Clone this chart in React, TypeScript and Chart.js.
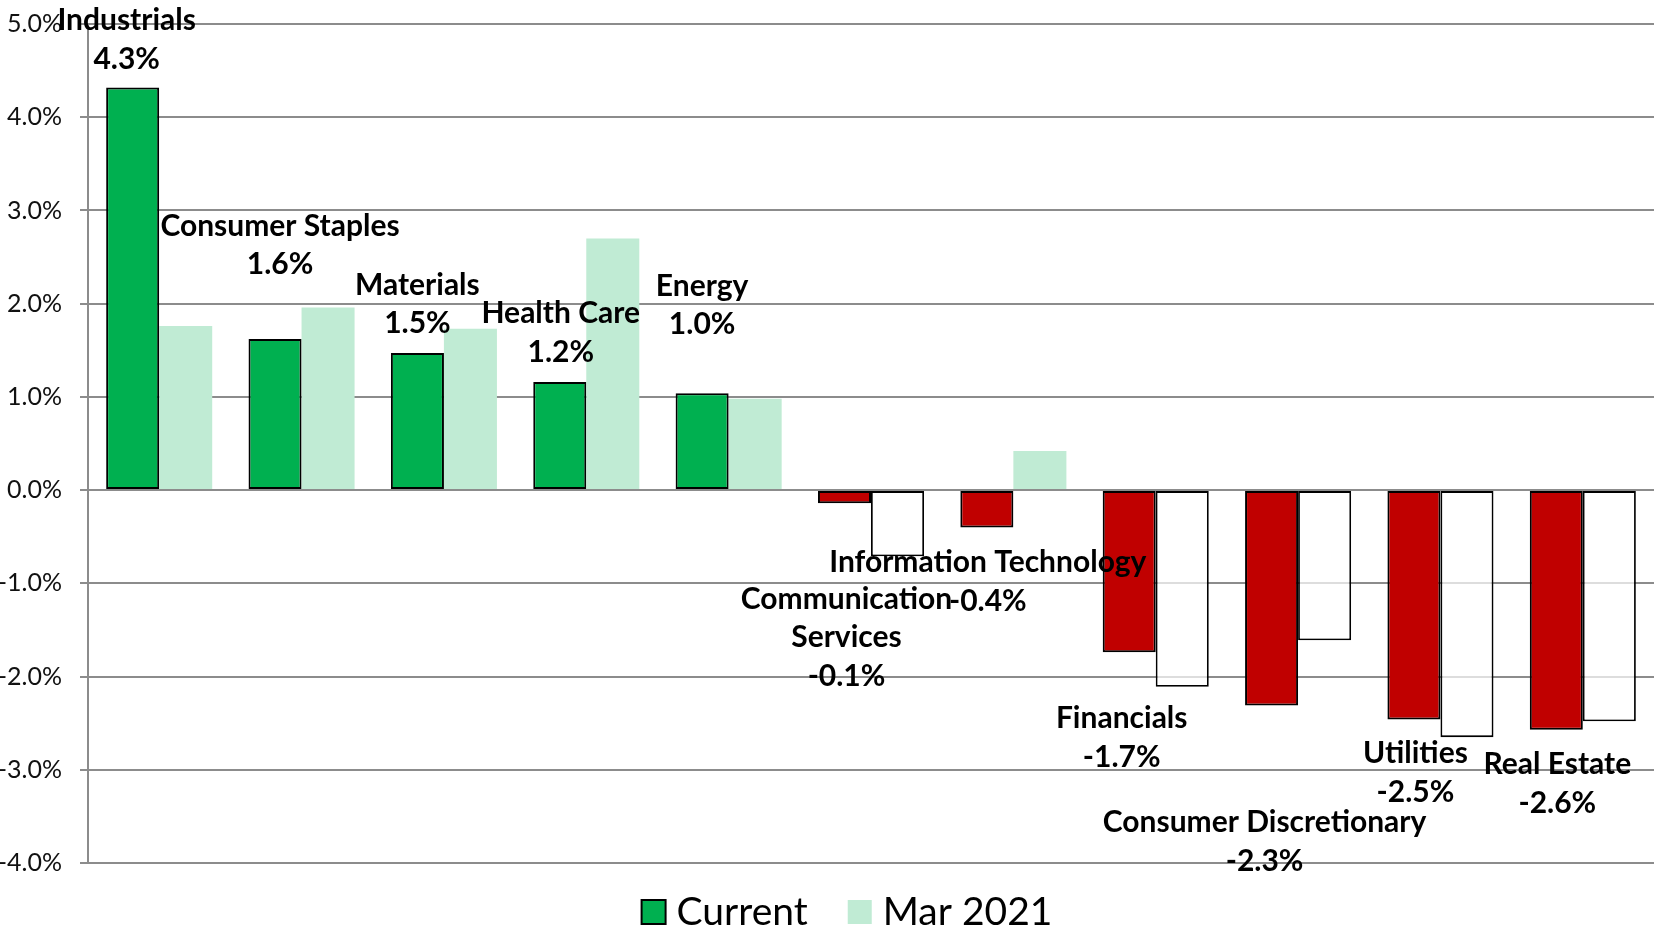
import React, { useEffect, useRef } from 'react';
import { Chart, registerables } from 'chart.js';

Chart.register(...registerables);

// ---- data ----
const categories = [
  'Industrials',
  'Consumer Staples',
  'Materials',
  'Health Care',
  'Energy',
  'Communication Services',
  'Information Technology',
  'Financials',
  'Consumer Discretionary',
  'Utilities',
  'Real Estate',
];

const labelLines = [
  ['Industrials'],
  ['Consumer Staples'],
  ['Materials'],
  ['Health Care'],
  ['Energy'],
  ['Communication', 'Services'],
  ['Information Technology'],
  ['Financials'],
  ['Consumer Discretionary'],
  ['Utilities'],
  ['Real Estate'],
];

const currentValues = [4.32, 1.62, 1.47, 1.16, 1.04, -0.14, -0.4, -1.74, -2.31, -2.46, -2.57];
const mar2021Values = [1.76, 1.96, 1.73, 2.7, 0.98, -0.71, 0.42, -2.11, -1.61, -2.65, -2.48];

const seriesNames = ['Current', 'Mar 2021'];

const yMin = -4;
const yMax = 5;
const yStep = 1;

// label placement relative to the end of each "Current" bar (px)
const labelOffsetX = [-6, 5, 0, 1, 0, 2, 1, -7.5, -7, 1.5, 1];
const labelOffsetY = [-68, -114, -69, -69, -108, 95, 34, 65, 116, 33, 34];

// ---- styles ----
const GREEN = '#00B050';
const RED = '#C00000';
const LIGHT_GREEN = '#C0EBD4';
const GRID = '#8c8c8c';
const FONT = "Lato, 'Liberation Sans', sans-serif";
const LABEL_SIZE = 30;
const LINE_H = 38.7;

const labelPlugin = {
  id: 'sectorLabels',
  afterDatasetsDraw(chart: any) {
    const ctx = chart.ctx;
    const meta = chart.getDatasetMeta(0);
    ctx.save();
    ctx.font = `bold ${LABEL_SIZE}px ${FONT}`;
    ctx.fillStyle = '#000';
    ctx.textAlign = 'center';
    ctx.textBaseline = 'alphabetic';
    meta.data.forEach((el: any, i: number) => {
      const lines = [...labelLines[i], currentValues[i].toFixed(1) + '%'];
      const x = el.x + labelOffsetX[i];
      const y0 = el.y + labelOffsetY[i];
      lines.forEach((t, k) => {
        ctx.fillText(t, x, y0 + k * LINE_H + LABEL_SIZE * 0.35);
      });
    });
    ctx.restore();
  },
};

const legendPlugin = {
  id: 'customLegend',
  afterDraw(chart: any) {
    const ctx = chart.ctx;
    ctx.save();
    const size = 39;
    ctx.font = `${size}px ${FONT}`;
    const box = 24;
    const gapBoxText = 11;
    const gapItems = 40;
    const w0 = ctx.measureText(seriesNames[0]).width;
    const w1 = ctx.measureText(seriesNames[1]).width;
    const total = box + gapBoxText + w0 + gapItems + box + gapBoxText + w1;
    let x = 847 - total / 2;
    const baseline = 925;
    const boxTop = 900;
    // item 1
    ctx.fillStyle = GREEN;
    ctx.fillRect(x, boxTop, box, box);
    ctx.strokeStyle = '#000';
    ctx.lineWidth = 2;
    ctx.strokeRect(x, boxTop, box, box);
    x += box + gapBoxText;
    ctx.fillStyle = '#000';
    ctx.textBaseline = 'alphabetic';
    ctx.textAlign = 'left';
    ctx.fillText(seriesNames[0], x, baseline);
    x += w0 + gapItems;
    // item 2
    ctx.fillStyle = LIGHT_GREEN;
    ctx.fillRect(x, boxTop, box, box);
    x += box + gapBoxText;
    ctx.fillStyle = '#000';
    ctx.fillText(seriesNames[1], x, baseline);
    ctx.restore();
  },
};

export default function App() {
  const ref = useRef<HTMLCanvasElement | null>(null);

  useEffect(() => {
    if (!ref.current) return;
    const chart = new Chart(ref.current, {
      type: 'bar',
      data: {
        labels: categories,
        datasets: [
          {
            label: seriesNames[0],
            data: currentValues,
            backgroundColor: currentValues.map((v) => (v >= 0 ? GREEN : RED)),
            borderColor: '#000',
            borderWidth: 2,
            borderSkipped: false,
            categoryPercentage: 0.745,
            barPercentage: 1.0,
          },
          {
            label: seriesNames[1],
            data: mar2021Values,
            backgroundColor: mar2021Values.map((v) => (v >= 0 ? LIGHT_GREEN : 'rgba(255,255,255,0.7)')),
            borderColor: '#000',
            borderWidth: mar2021Values.map((v) => (v >= 0 ? 0 : 1.8)),
            borderSkipped: false,
            categoryPercentage: 0.745,
            barPercentage: 1.0,
          },
        ],
      },
      options: {
        responsive: false,
        animation: false,
        layout: { padding: { top: 24, bottom: 69, left: 0, right: 0 } },
        plugins: {
          legend: { display: false },
          tooltip: { enabled: false },
        },
        scales: {
          x: {
            type: 'category',
            display: false,
            offset: true,
          },
          y: {
            min: yMin,
            max: yMax,
            afterFit: (scale: any) => {
              scale.width = 88;
              scale.paddingTop = 10;
              scale.paddingBottom = 10;
            },
            ticks: {
              stepSize: yStep,
              padding: 18,
              color: '#111',
              font: { family: FONT, size: 25 },
              callback: (v: any) => Number(v).toFixed(1) + '%',
            },
            grid: {
              color: GRID,
              lineWidth: 2,
              tickLength: 8,
              drawTicks: true,
            },
            border: { display: true, color: GRID, width: 2 },
          },
        },
      },
      plugins: [labelPlugin, legendPlugin],
    });
    return () => chart.destroy();
  }, []);

  return (
    <div style={{ position: 'fixed', left: 0, top: 0, width: 1654, height: 932, background: '#fff' }}>
      <canvas ref={ref} width={1654} height={932} style={{ display: 'block' }} />
    </div>
  );
}
